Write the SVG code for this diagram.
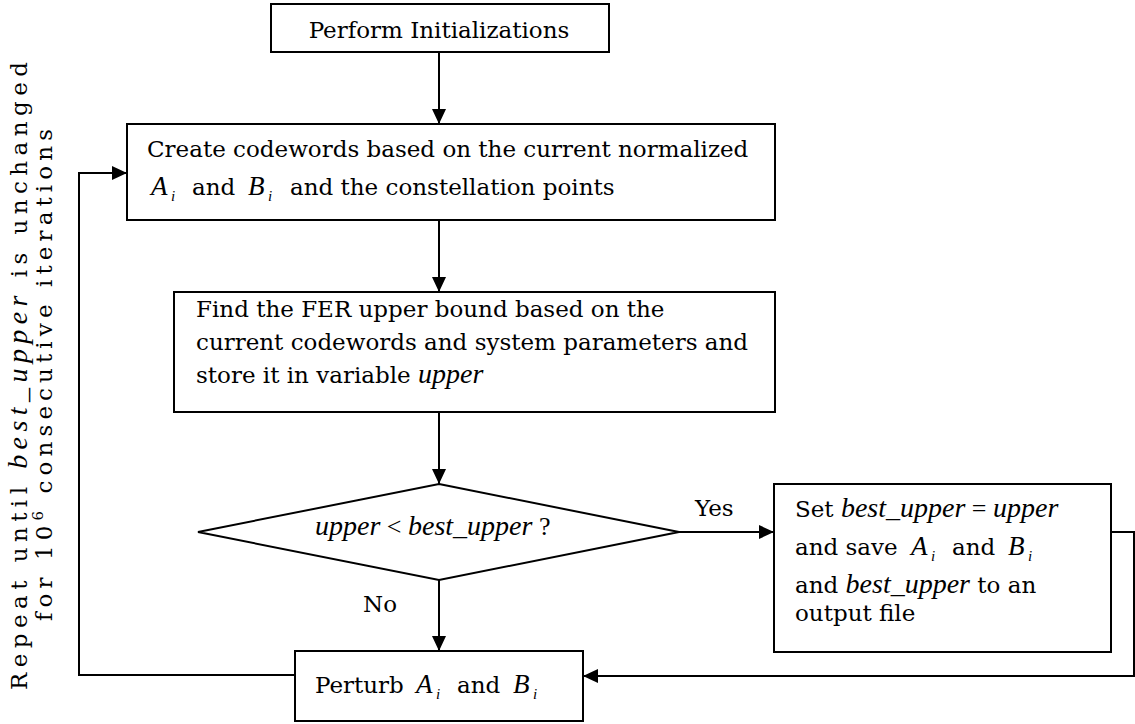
<svg xmlns="http://www.w3.org/2000/svg" width="1135" height="724" viewBox="0 0 1135 724">
<style>
.box{fill:#fff;stroke:#000;stroke-width:2}
.ln{fill:none;stroke:#000;stroke-width:2}
.t{font-family:"DejaVu Serif","Liberation Serif",serif;font-size:23px;fill:#000}
.it{font-family:"Liberation Serif","Times New Roman",serif;font-style:italic;font-size:28px}
.m{font-family:"Liberation Serif","Times New Roman",serif;font-style:italic;font-size:27px}
.s{font-family:"Liberation Serif","Times New Roman",serif;font-style:italic;font-size:15px}
.r{font-family:"Liberation Serif","Times New Roman",serif;font-size:26px}
</style>
<defs>
<marker id="ah" markerUnits="userSpaceOnUse" markerWidth="16" markerHeight="14" refX="15" refY="7" orient="auto">
<path d="M0,0 L15,7 L0,14 z" fill="#000"/>
</marker>
</defs>
<rect width="1135" height="724" fill="#fff"/>
<g id="connectors">
<line class="ln" x1="439" y1="52" x2="439" y2="124" marker-end="url(#ah)"/>
<line class="ln" x1="439" y1="220" x2="439" y2="292" marker-end="url(#ah)"/>
<line class="ln" x1="439" y1="412" x2="439" y2="484" marker-end="url(#ah)"/>
<line class="ln" x1="439" y1="580" x2="439" y2="651" marker-end="url(#ah)"/>
<line class="ln" x1="679" y1="532" x2="774" y2="532" marker-end="url(#ah)"/>
<polyline class="ln" points="1111,532 1134,532 1134,676 583,676" marker-end="url(#ah)"/>
<polyline class="ln" points="295,675 79,675 79,173 127,173" marker-end="url(#ah)"/>
<text class="t" x="695" y="516">Yes</text>
<text class="t" x="363" y="612">No</text>
<g transform="translate(27,376) rotate(-90)">
<text class="t" x="0" y="0" text-anchor="middle" textLength="628" lengthAdjust="spacing">Repeat until <tspan class="it">best_upper</tspan> is unchanged</text>
</g>
<g transform="translate(52,375) rotate(-90)">
<text class="t" x="0" y="0" text-anchor="middle" textLength="492" lengthAdjust="spacing">for 10<tspan font-size="15" dy="-9">6</tspan><tspan dy="9"> consecutive iterations</tspan></text>
</g>
</g>
<g id="init">
<rect class="box" x="271" y="4" width="338" height="48"/>
<text class="t" x="439" y="38" text-anchor="middle">Perform Initializations</text>
</g>
<g id="create">
<rect class="box" x="127" y="124" width="648" height="96"/>
<text class="t" x="147" y="157">Create codewords based on the current normalized</text>
<text class="m" x="151" y="195">A</text><text class="s" x="171" y="201">i</text>
<text class="t" x="192" y="195">and</text>
<text class="m" x="248" y="195">B</text><text class="s" x="268" y="201">i</text>
<text class="t" x="290" y="195">and the constellation points</text>
</g>
<g id="find">
<rect class="box" x="174" y="292" width="601" height="120"/>
<text class="t" x="196" y="317">Find the FER upper bound based on the</text>
<text class="t" x="196" y="350">current codewords and system parameters and</text>
<text class="t" x="196" y="383">store it in variable <tspan class="it">upper</tspan></text>
</g>
<g id="decision">
<polygon class="box" points="439,484 679,532 439,580 198,532"/>
<text class="t" x="315" y="535"><tspan class="it">upper</tspan><tspan class="r"> &lt; </tspan><tspan class="it">best_upper</tspan><tspan class="r"> ?</tspan></text>
</g>
<g id="save">
<rect class="box" x="774" y="484" width="337" height="168"/>
<text class="t" x="795" y="517">Set <tspan class="it">best_upper</tspan><tspan class="r"> = </tspan><tspan class="it">upper</tspan></text>
<text class="t" x="795" y="555">and save</text>
<text class="m" x="911" y="555">A</text><text class="s" x="931" y="561">i</text>
<text class="t" x="952" y="555">and</text>
<text class="m" x="1008" y="555">B</text><text class="s" x="1028" y="561">i</text>
<text class="t" x="795" y="593">and <tspan class="it">best_upper</tspan> to an</text>
<text class="t" x="795" y="621">output file</text>
</g>
<g id="perturb">
<rect class="box" x="295" y="651" width="288" height="70"/>
<text class="t" x="315" y="693">Perturb</text>
<text class="m" x="416" y="693">A</text><text class="s" x="436" y="699">i</text>
<text class="t" x="457" y="693">and</text>
<text class="m" x="513" y="693">B</text><text class="s" x="533" y="699">i</text>
</g>
</svg>
